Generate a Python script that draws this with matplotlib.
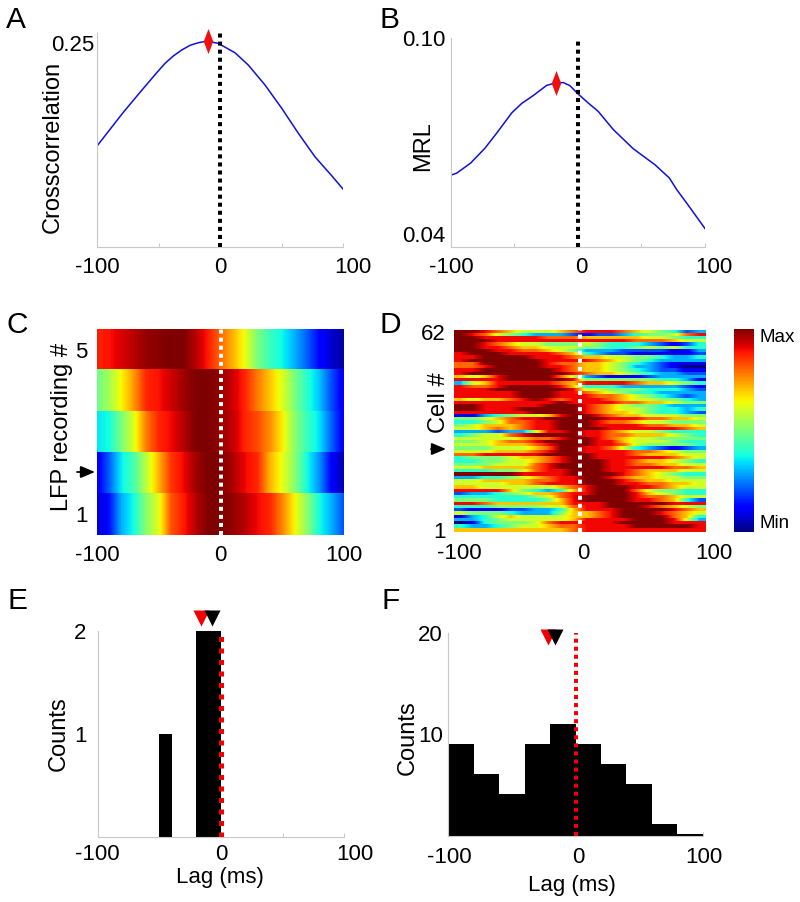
import matplotlib
matplotlib.use("Agg")
import matplotlib.pyplot as plt
import numpy as np
from matplotlib.transforms import ScaledTranslation

plt.rcParams['font.family'] = ['Liberation Sans', 'DejaVu Sans']
plt.rcParams['font.size'] = 16

# Panel A
lag_a = [-100, -89.4, -78.6, -65, -51.5, -44.7, -38, -31.2, -24.4, -17.6, -10.8, -1.4, 12.2, 23, 36.6, 50.2, 63.7, 77.2, 90.8, 100]
xcorr = [.1236, .1441, .1649, .1894, .2133, .2248, .2338, .2411, .2469, .2501, .2521, .2493, .2378, .2228, .1983, .1698, .1392, .1105, .0873, .071]
peak_a = (-10, .2521)

# Panel B
lag_b = [-100, -95.3, -84.3, -73, -63.8, -52, -44.2, -35, -24.5, -16.6, -11.4, -6.2, 0, 8.3, 16.1, 27.9, 43.6, 60.7, 72, 77.7, 85.6, 100]
mrl = [.0606, .0612, .0641, .0684, .0727, .0785, .0812, .0835, .0864, .0872, .0872, .0863, .084, .0813, .0789, .0737, .0682, .0636, .0598, .0565, .0526, .0453]
peak_b = (-17, .0872)

# Panel C, one row per recording (top = 5), samples every 10 ms from -100 to 100
lfp_rows = [
    [.875, .89, .92, .95, .98, .99, 1, 1, .95, .88, .8, .72, .63, .5, .42, .37, .3, .22, .13, .07, .03],
    [.48, .55, .65, .75, .87, .89, .93, .97, 1, 1, .98, .93, .87, .78, .7, .62, .5, .4, .32, .2, .1],
    [.35, .38, .5, .62, .78, .87, .9, .95, 1, 1, .98, .94, .87, .83, .76, .66, .52, .42, .35, .22, .1],
    [.1, .22, .36, .44, .58, .72, .85, .9, .97, 1, 1, .96, .9, .87, .72, .63, .52, .38, .27, .12, .04],
    [.07, .14, .3, .38, .52, .62, .82, .88, .95, 1, 1, .98, .95, .9, .87, .77, .65, .52, .38, .3, .2],
]

# Panel D, one row per cell (top = 62), 20 bins of 10 ms, scaled 0-10
cell_rows = [
    [10, 10, 9, 8, 7, 6, 6, 6, 7, 8, 9, 9, 9, 8, 7, 6, 5, 4, 2, 3],
    [10, 9, 8, 6, 5, 4, 3, 3, 3, 2, 1, 2, 2, 3, 4, 5, 5, 6, 8, 9],
    [10, 10, 9, 9, 9, 9, 9, 8, 8, 8, 7, 7, 7, 7, 7, 6, 6, 5, 4, 4],
    [10, 10, 10, 9, 9, 9, 9, 9, 9, 9, 9, 9, 9, 9, 8, 8, 8, 7, 6, 6],
    [10, 10, 9, 8, 7, 6, 6, 5, 5, 5, 6, 5, 4, 4, 4, 3, 2, 1, 2, 4],
    [10, 10, 9, 9, 8, 7, 7, 6, 6, 6, 5, 5, 4, 4, 5, 6, 5, 6, 4, 4],
    [10, 10, 10, 9, 9, 8, 8, 7, 6, 5, 3, 3, 3, 2, 2, 2, 2, 1, 1, 3],
    [9, 10, 10, 10, 9, 9, 9, 9, 8, 7, 4, 3, 2, 2, 1, 1, 1, 1, 1, 2],
    [9, 9, 10, 10, 10, 10, 9, 9, 9, 8, 7, 7, 6, 6, 5, 5, 4, 3, 3, 4],
    [9, 10, 10, 10, 10, 10, 10, 9, 9, 9, 9, 8, 7, 6, 5, 4, 3, 3, 3, 3],
    [8, 8, 10, 10, 10, 10, 10, 9, 8, 8, 7, 7, 6, 5, 4, 3, 2, 1, 1, 1],
    [8, 8, 9, 10, 10, 10, 10, 9, 9, 8, 7, 7, 6, 5, 3, 3, 2, 1, 0, 0],
    [9, 9, 10, 10, 10, 10, 10, 10, 9, 8, 7, 7, 6, 5, 4, 3, 2, 2, 1, 1],
    [9, 10, 10, 10, 10, 10, 10, 10, 10, 9, 8, 7, 7, 6, 5, 4, 3, 3, 2, 2],
    [7, 6, 7, 9, 10, 10, 10, 10, 8, 6, 3, 2, 1, 1, 1, 2, 3, 3, 3, 3],
    [9, 9, 9, 9, 10, 10, 10, 10, 10, 9, 5, 5, 5, 5, 5, 5, 4, 4, 3, 1],
    [3, 6, 7, 9, 9, 9, 9, 9, 8, 7, 9, 9, 9, 9, 8, 7, 7, 6, 5, 4],
    [9, 8, 8, 9, 10, 10, 10, 10, 9, 7, 4, 4, 4, 3, 3, 3, 3, 3, 2, 1],
    [9, 9, 9, 10, 10, 10, 10, 10, 10, 9, 6, 6, 5, 5, 5, 4, 4, 4, 3, 2],
    [9, 9, 9, 9, 9, 10, 10, 10, 9, 9, 8, 7, 6, 5, 4, 4, 3, 3, 3, 3],
    [9, 9, 9, 9, 9, 10, 10, 10, 9, 9, 9, 8, 8, 7, 6, 5, 4, 3, 2, 3],
    [7, 6, 7, 7, 8, 9, 10, 9, 8, 9, 9, 9, 8, 7, 6, 6, 5, 5, 4, 3],
    [9, 9, 9, 9, 9, 9, 9, 9, 10, 9, 9, 9, 9, 8, 8, 7, 7, 6, 5, 5],
    [10, 10, 9, 9, 9, 9, 9, 10, 10, 10, 9, 8, 7, 6, 5, 5, 4, 3, 3, 3],
    [10, 10, 9, 9, 9, 10, 10, 10, 10, 10, 9, 8, 7, 6, 6, 5, 4, 4, 3, 4],
    [9, 9, 9, 9, 9, 9, 10, 10, 10, 10, 9, 8, 7, 7, 6, 5, 4, 4, 3, 2],
    [1, 1, 3, 4, 5, 6, 6, 7, 9, 10, 10, 9, 8, 7, 7, 6, 6, 6, 5, 5],
    [5, 5, 6, 7, 8, 9, 9, 10, 10, 10, 10, 10, 9, 9, 9, 8, 8, 7, 7, 6],
    [4, 4, 5, 6, 8, 8, 9, 9, 10, 10, 10, 9, 8, 8, 7, 6, 6, 5, 5, 5],
    [5, 6, 7, 7, 7, 8, 9, 9, 10, 10, 10, 9, 9, 9, 9, 8, 8, 7, 7, 6],
    [6, 6, 7, 8, 7, 8, 9, 9, 10, 10, 10, 10, 9, 9, 9, 9, 9, 9, 8, 7],
    [3, 3, 3, 2, 3, 3, 6, 9, 9, 10, 9, 9, 8, 7, 6, 6, 5, 4, 4, 4],
    [4, 5, 6, 6, 8, 9, 10, 10, 10, 10, 9, 9, 8, 8, 7, 7, 7, 6, 5, 4],
    [6, 6, 6, 6, 6, 7, 8, 8, 9, 10, 10, 9, 8, 7, 6, 6, 5, 5, 5, 5],
    [5, 5, 6, 7, 8, 8, 9, 10, 10, 10, 10, 9, 9, 7, 6, 6, 6, 5, 4, 4],
    [6, 6, 6, 7, 7, 7, 8, 9, 10, 10, 10, 9, 9, 8, 6, 5, 5, 5, 5, 4],
    [5, 5, 5, 6, 6, 6, 7, 8, 10, 10, 9, 9, 8, 6, 4, 3, 2, 1, 2, 3],
    [6, 6, 6, 7, 7, 7, 8, 9, 10, 10, 9, 9, 9, 9, 8, 8, 7, 6, 5, 5],
    [8, 8, 9, 9, 9, 9, 9, 10, 10, 10, 10, 9, 9, 9, 8, 7, 7, 7, 6, 6],
    [4, 5, 5, 5, 6, 7, 7, 8, 9, 10, 10, 9, 9, 9, 9, 9, 9, 8, 7, 6],
    [4, 4, 5, 5, 6, 6, 7, 8, 9, 10, 10, 10, 9, 9, 8, 7, 7, 6, 5, 4],
    [5, 5, 5, 6, 6, 6, 8, 9, 10, 10, 10, 10, 9, 9, 8, 8, 7, 7, 6, 6],
    [6, 6, 7, 7, 7, 7, 8, 9, 10, 10, 10, 10, 9, 9, 9, 9, 9, 8, 8, 7],
    [4, 4, 4, 5, 5, 6, 8, 9, 9, 10, 10, 10, 9, 9, 8, 7, 7, 7, 6, 6],
    [10, 10, 10, 10, 10, 9, 9, 9, 9, 10, 10, 10, 10, 9, 8, 7, 6, 5, 4, 4],
    [3, 3, 4, 4, 5, 6, 7, 8, 9, 9, 10, 10, 9, 8, 7, 7, 6, 6, 5, 5],
    [6, 6, 7, 7, 7, 7, 8, 8, 9, 9, 10, 10, 10, 9, 8, 7, 7, 6, 6, 6],
    [6, 6, 6, 6, 7, 7, 8, 9, 9, 9, 10, 10, 10, 9, 9, 8, 8, 7, 7, 6],
    [7, 7, 6, 6, 6, 6, 6, 6, 7, 8, 9, 10, 10, 10, 9, 9, 8, 7, 6, 6],
    [9, 9, 9, 9, 7, 5, 4, 3, 4, 7, 9, 10, 10, 10, 8, 6, 5, 5, 4, 4],
    [2, 3, 3, 4, 5, 6, 7, 7, 8, 9, 9, 10, 10, 10, 9, 7, 6, 5, 4, 4],
    [4, 4, 4, 4, 4, 4, 5, 6, 8, 9, 10, 10, 10, 10, 9, 8, 8, 7, 6, 6],
    [5, 5, 5, 4, 4, 4, 4, 5, 7, 9, 10, 10, 10, 10, 9, 9, 8, 7, 4, 2],
    [9, 9, 8, 7, 7, 7, 7, 7, 7, 9, 9, 9, 10, 10, 10, 10, 10, 9, 9, 9],
    [4, 4, 4, 5, 5, 5, 5, 6, 6, 8, 9, 9, 10, 10, 10, 9, 8, 7, 6, 5],
    [2, 1, 1, 1, 2, 2, 3, 3, 4, 7, 9, 9, 9, 10, 10, 10, 10, 9, 8, 7],
    [6, 5, 5, 5, 4, 3, 3, 3, 5, 7, 7, 8, 9, 10, 10, 10, 9, 8, 7, 6],
    [1, 3, 4, 6, 7, 6, 6, 6, 6, 7, 7, 8, 9, 10, 10, 10, 10, 8, 7, 4],
    [3, 3, 4, 5, 6, 6, 6, 6, 6, 7, 9, 9, 9, 9, 10, 10, 10, 9, 6, 3],
    [0, 1, 4, 5, 5, 5, 6, 8, 9, 9, 9, 9, 9, 10, 10, 10, 10, 9, 9, 9],
    [4, 3, 3, 4, 5, 6, 6, 7, 8, 8, 9, 9, 9, 9, 10, 10, 10, 10, 10, 9],
    [7, 7, 7, 7, 7, 7, 7, 7, 7, 8, 9, 9, 9, 9, 9, 9, 9, 9, 9, 9],
]

# Panel E
edges_e = list(range(-100, 101, 10))
counts_e = [0, 0, 0, 0, 0, 1, 0, 0, 2, 2, 0, 0, 0, 0, 0, 0, 0, 0, 0, 0]
means_e = (-16, -7)

# Panel F
edges_f = list(range(-100, 101, 20))
counts_f = [9, 6, 4, 9, 11, 9, 7, 5, 1, 0]
means_f = (-21.5, -16.5)

fig = plt.figure(figsize=(8, 9.02), dpi=100)
W, H = 800, 902
AXIS_GREY = '#c8c8c8'
LABEL_SIZE = 17
DIAMOND = [(-.38, 0), (0, 1), (.38, 0), (0, -1)]


def px_axes(x0, y0, x1, y1):
    return fig.add_axes([x0 / W, 1 - y1 / H, (x1 - x0) / W, (y1 - y0) / H])


def lag_axis(ax, shifts, pad=7, frame=True):
    ax.set_xlim(-100, 100)
    ax.set_xticks([-100, -50, 0, 50, 100], ['-100', '', '0', '', '100'])
    ax.tick_params(axis='x', direction='in', length=3 if frame else 0, width=.7, color=AXIS_GREY, pad=pad)
    # labels in the original sit a little off their ticks
    labels = [l for l in ax.get_xticklabels() if l.get_text()]
    for label, dx in zip(labels, shifts):
        label.set_transform(label.get_transform() + ScaledTranslation(dx / 100, 0, fig.dpi_scale_trans))
    for side in ['top', 'right']:
        ax.spines[side].set_visible(False)
    for side in ['left', 'bottom']:
        ax.spines[side].set_color(AXIS_GREY)
        ax.spines[side].set_linewidth(.8)
        ax.spines[side].set_visible(frame)
    ax.tick_params(axis='y', length=0)
    ax.set_axisbelow(True)


def zero_line(ax, color, lw=2.9, gap=1):
    ax.axvline(0, color=color, lw=lw, ls=(0, (1, gap)), zorder=5)


def draw_rows(ax, rows, vmax, lag_range):
    n = len(rows)
    for i, row in enumerate(rows):
        ax.imshow([row], cmap='jet', vmin=0, vmax=vmax, aspect='auto', interpolation='bilinear',
                  extent=[lag_range[0], lag_range[1], n - i - .5, n - i + .5])
    ax.set_ylim(.5, n + .5)


def arrow(x0, x1, y):
    plt.annotate('', xy=(x1 / W, 1 - y / H), xytext=(x0 / W, 1 - y / H), xycoords='figure fraction',
                 textcoords='figure fraction',
                 arrowprops=dict(arrowstyle='-|>,head_width=.36,head_length=.86', mutation_scale=10,
                                 color='black', lw=1.3, shrinkA=0, shrinkB=0))


# A
ax = px_axes(97, 33, 343, 247)
ax.plot(lag_a, xcorr, color='#1010e0', lw=1.1)
zero_line(ax, 'black')
ax.plot(*peak_a, marker=DIAMOND, ms=18, color='#f01010', mec='none', zorder=6, clip_on=False)
ax.set_ylim(0, .262)
ax.set_yticks([.25], ['0.25'])
lag_axis(ax, [0, 0, 10])
ax.tick_params(axis='y', pad=2)
fig.text(53 / W, 1 - 147 / H, 'Crosscorrelation', rotation=90, ha='center', va='center', fontsize=LABEL_SIZE)

# B
ax = px_axes(450.7, 38, 705, 247)
ax.plot(lag_b, mrl, color='#1010e0', lw=1.1)
zero_line(ax, 'black')
ax.plot(*peak_b, marker=DIAMOND, ms=18, color='#f01010', mec='none', zorder=6, clip_on=False)
ax.set_ylim(.04, .10)
ax.set_yticks([.04, .10], ['0.04', '0.10'])
lag_axis(ax, [1, 3, 9])
ax.tick_params(axis='y', pad=4)
ax.get_yticklabels()[0].set_va('bottom')
fig.text(423 / W, 1 - 146 / H, 'MRL', rotation=90, ha='center', va='center', fontsize=LABEL_SIZE)

# C
ax = px_axes(97.3, 329, 344.3, 535)
draw_rows(ax, lfp_rows, 1, [-105, 105])
lag_axis(ax, [0, 0, 0], frame=False)
zero_line(ax, 'white')
ax.set_yticks([1, 5], ['1', '5'])
ax.tick_params(axis='y', pad=7)
fig.text(62 / W, 1 - 427 / H, 'LFP recording #', rotation=90, ha='center', va='center', fontsize=LABEL_SIZE)
arrow(77, 95, 472)

# D
ax = px_axes(454.3, 330, 705.7, 531.7)
draw_rows(ax, cell_rows, 10, [-100, 100])
lag_axis(ax, [5, 3, 8], pad=8, frame=False)
zero_line(ax, 'white')
ax.set_yticks([1, 62], ['1', '62'])
ax.tick_params(axis='y', pad=6)
fig.text(439 / W, 1 - 403 / H, 'Cell #', rotation=90, ha='center', va='center', fontsize=LABEL_SIZE)
arrow(431, 446, 449)

# colour bar
cax = px_axes(734, 329, 754, 532)
cbar = fig.colorbar(plt.cm.ScalarMappable(plt.Normalize(0, 10), 'jet'), cax=cax)
cbar.outline.set_visible(False)
cbar.set_ticks([0, 10], labels=['Min', 'Max'])
cax.tick_params(length=0, pad=4, labelsize=13.5)
cax.get_yticklabels()[0].set_va('bottom')
cax.get_yticklabels()[1].set_va('top')

# E
ax = px_axes(97.7, 631, 344.3, 837)
ax.stairs(counts_e, edges_e, fill=True, color='black', lw=0)
zero_line(ax, '#f00000', lw=3.6, gap=1.3)
ax.plot([means_e[0]], [2.126], marker='v', ms=11, color='#f00000', mec='none', clip_on=False, zorder=6)
ax.plot([means_e[1]], [2.126], marker='v', ms=11, color='black', mec='none', clip_on=False, zorder=7)
ax.set_ylim(0, 2)
ax.set_yticks([1, 2], ['1', '2'])
lag_axis(ax, [0, 0, 11], pad=5)
ax.tick_params(axis='y', pad=8)
fig.text(220 / W, 1 - 878 / H, 'Lag (ms)', ha='center', va='center')
fig.text(59 / W, 1 - 734 / H, 'Counts', rotation=90, ha='center', va='center', fontsize=LABEL_SIZE)

# F
ax = px_axes(448.3, 632.7, 702.7, 836)
ax.stairs(counts_f, edges_f, fill=True, baseline=-.15, color='black', lw=0)
zero_line(ax, '#f00000')
ax.plot([means_f[0]], [19.6], marker='v', ms=11, color='#f00000', mec='none', clip_on=False, zorder=6)
ax.plot([means_f[1]], [19.6], marker='v', ms=11, color='black', mec='none', clip_on=False, zorder=7)
ax.set_ylim(-.15, 20)
ax.set_yticks([10, 20], ['10', '20'])
lag_axis(ax, [1, 3, 1], pad=8)
ax.tick_params(axis='y', pad=4)
fig.text(572 / W, 1 - 885 / H, 'Lag (ms)', ha='center', va='center')
fig.text(408 / W, 1 - 738 / H, 'Counts', rotation=90, ha='center', va='center', fontsize=LABEL_SIZE)

# panel letters
for letter, x, y in [('A', 6, 20), ('B', 380, 20), ('C', 6, 325), ('D', 380, 325), ('E', 7, 601), ('F', 381, 601)]:
    fig.text(x / W, 1 - y / H, letter, fontsize=21.5, ha='left', va='center')

fig.savefig('out.png', dpi=100)
